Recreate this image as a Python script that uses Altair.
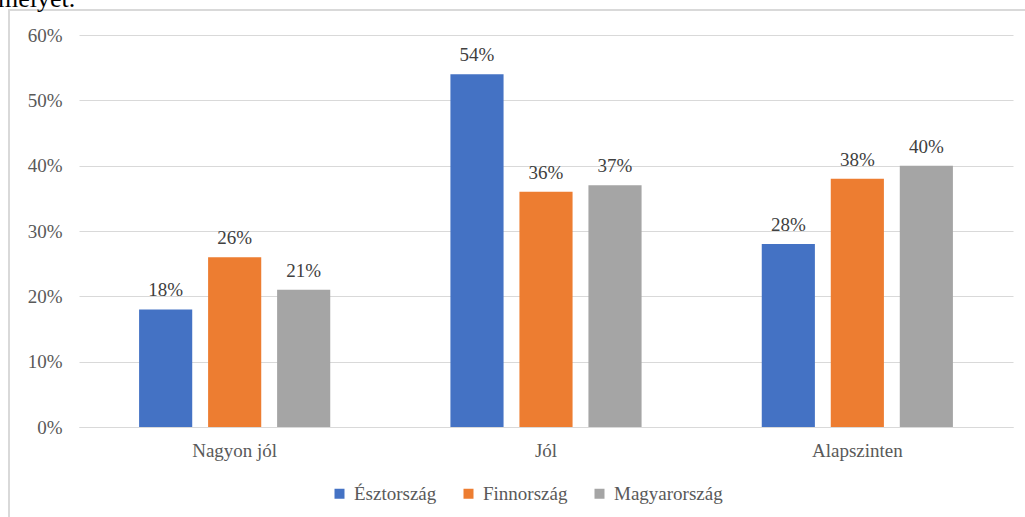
import altair as alt
import pandas as pd

categories = ["Nagyon jól", "Jól", "Alapszinten"]
series = ["Észtország", "Finnország", "Magyarország"]
estonia = [18, 54, 28]
finland = [26, 36, 38]
hungary = [21, 37, 40]
colors = ["#4472C4", "#ED7D31", "#A5A5A5"]

rows = []
for s, vals in zip(series, [estonia, finland, hungary]):
    for c, v in zip(categories, vals):
        rows.append({"cat": c, "series": s, "value": v / 100, "label": f"{v}%"})
df = pd.DataFrame(rows)

FONT = "Liberation Serif"
W, H = 934, 392

x = alt.X("cat:N", sort=categories, title=None,
          scale=alt.Scale(paddingInner=0.386, paddingOuter=0.193),
          axis=alt.Axis(labelAngle=0, labelFont=FONT, labelFontSize=19, labelColor="#595959",
                        labelPadding=14, ticks=False, domain=True, domainColor="#d9d9d9",
                        domainWidth=1))
xo = alt.XOffset("series:N", sort=series,
                 scale=alt.Scale(paddingInner=0.23, paddingOuter=0))
y = alt.Y("value:Q", title=None,
          scale=alt.Scale(domain=[0, 0.6]),
          axis=alt.Axis(format=".0%", values=[0, 0.1, 0.2, 0.3, 0.4, 0.5, 0.6],
                        labelFont=FONT, labelFontSize=19, labelColor="#595959",
                        labelPadding=17, ticks=False, domain=False,
                        gridColor="#d9d9d9", gridWidth=1))

base = alt.Chart(df)
bars = base.mark_bar().encode(
    x=x, xOffset=xo, y=y,
    color=alt.Color("series:N", sort=series,
                    scale=alt.Scale(domain=series, range=colors),
                    legend=alt.Legend(orient="none", legendX=251, legendY=449,
                                      direction="horizontal", title=None,
                                      symbolType="square", symbolSize=100,
                                      symbolStrokeWidth=0,
                                      labelFont=FONT, labelFontSize=19,
                                      labelColor="#595959", labelOffset=5,
                                      columnPadding=22)),
)
labels = base.mark_text(font=FONT, fontSize=19, color="#404040",
                        baseline="alphabetic", dy=-13).encode(
    x=x, xOffset=xo, y=y, text="label:N"
)

frame_df = pd.DataFrame({"k": [0]})
frame = alt.Chart(frame_df).mark_rect(fill=None, stroke="#d9d9d9", strokeWidth=2).encode(
    x=alt.value(-70), x2=alt.value(960), y=alt.value(-25), y2=alt.value(500)
)
top_text = alt.Chart(frame_df).mark_text(font=FONT, fontSize=26, color="#000000",
                                          align="left", baseline="alphabetic").encode(
    x=alt.value(-81), y=alt.value(-28), text=alt.value("melyet.")
)

chart = alt.layer(frame, bars, labels, top_text).properties(
    width=W, height=H,
    autosize=alt.AutoSizeParams(type="none"),
    padding={"left": 79, "top": 35, "right": 12, "bottom": 90},
    background="white",
).configure_view(stroke=None)

chart.save("out.html", embed_options={"renderer": "svg", "actions": False})
